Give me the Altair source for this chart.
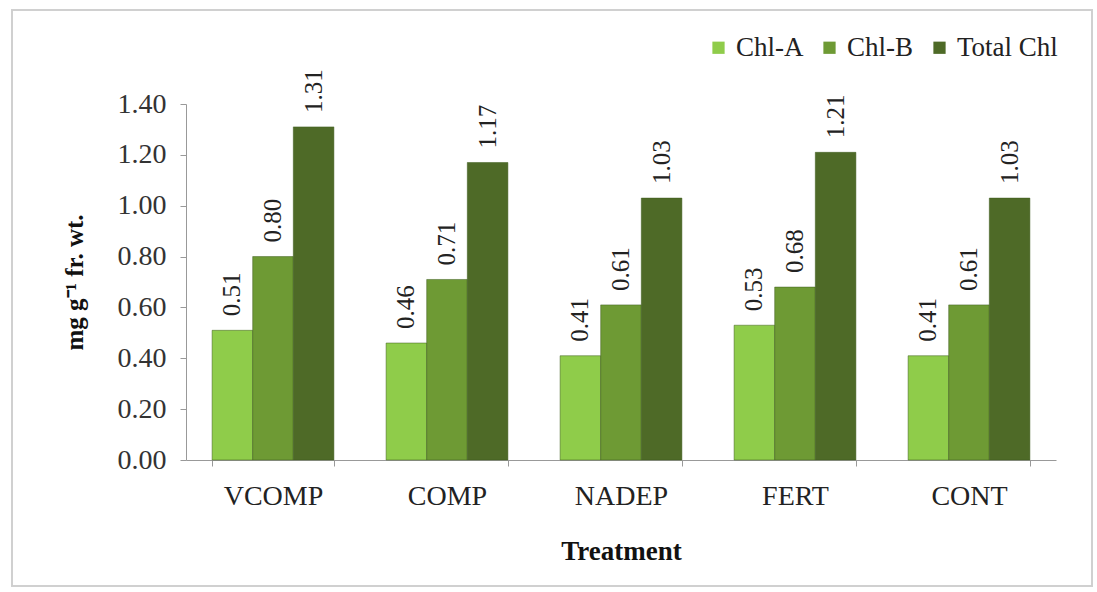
import altair as alt
import pandas as pd

treatments = ["VCOMP", "COMP", "NADEP", "FERT", "CONT"]
series = ["Chl-A", "Chl-B", "Total Chl"]
chl_a = [0.51, 0.46, 0.41, 0.53, 0.41]
chl_b = [0.80, 0.71, 0.61, 0.68, 0.61]
total = [1.31, 1.17, 1.03, 1.21, 1.03]
colors = ["#8FCC4A", "#6E9A34", "#4E6A27"]

rows = []
for i, t in enumerate(treatments):
    for s, vals in zip(series, [chl_a, chl_b, total]):
        rows.append({"Treatment": t, "Series": s, "Value": vals[i],
                     "Label": f"{vals[i]:.2f}"})
df = pd.DataFrame(rows)

font = "Liberation Serif"

x = alt.X("Treatment:N", sort=treatments,
          scale=alt.Scale(paddingInner=0.3, paddingOuter=0.15),
          axis=alt.Axis(title="Treatment", labelAngle=0, labelFontSize=28,
                        labelFont=font, labelColor="#222", labelPadding=16,
                        titleFont=font, titleFontSize=27, titleFontWeight="bold",
                        titlePadding=28, titleColor="#111",
                        domainColor="#999", tickColor="#999", tickSize=6,
                        tickBand="extent", bandPosition=0))
xo = alt.XOffset("Series:N", sort=series)
y = alt.Y("Value:Q",
          scale=alt.Scale(domain=[0, 1.4]),
          axis=alt.Axis(title="mg g⁻¹ fr. wt.", values=[0, 0.2, 0.4, 0.6, 0.8, 1.0, 1.2, 1.4],
                        format=".2f", grid=False, labelFontSize=28, labelFont=font,
                        labelColor="#333", labelPadding=14,
                        titleFont=font, titleFontSize=25, titleFontWeight="bold",
                        titleColor="#111", titlePadding=30,
                        domainColor="#999", tickColor="#999", tickSize=6))

bars = alt.Chart(df).mark_bar(stroke="#3d5a1c", strokeWidth=0.5).encode(
    x=x, xOffset=xo, y=y,
    color=alt.Color("Series:N", sort=series,
                    scale=alt.Scale(domain=series, range=colors),
                    legend=alt.Legend(title=None, orient="none", direction="horizontal",
                                      legendX=519, legendY=-70, symbolType="square",
                                      symbolSize=150, labelFont=font, labelFontSize=27,
                                      labelColor="#222", columnPadding=12,
                                      symbolStrokeWidth=0))
)

labels = alt.Chart(df).mark_text(angle=270, align="left", baseline="middle",
                                 dx=14, font=font, fontSize=25, color="#222").encode(
    x=x, xOffset=xo, y=y, text="Label:N"
)

frame = alt.Chart(df).mark_rect(fill=None, stroke="#cfcfcf", strokeWidth=1.5, clip=False).encode(
    x=alt.value(-174), x2=alt.value(906), y=alt.value(-94), y2=alt.value(482)
)

chart = alt.layer(frame, bars, labels).properties(
    width=870, height=356,
    padding={"left": 186, "top": 104, "right": 41, "bottom": 132},
    autosize=alt.AutoSizeParams(type="none"),
).configure(background="white").configure_view(strokeWidth=0)

chart.save("out.html", embed_options={"renderer": "svg", "actions": False})
